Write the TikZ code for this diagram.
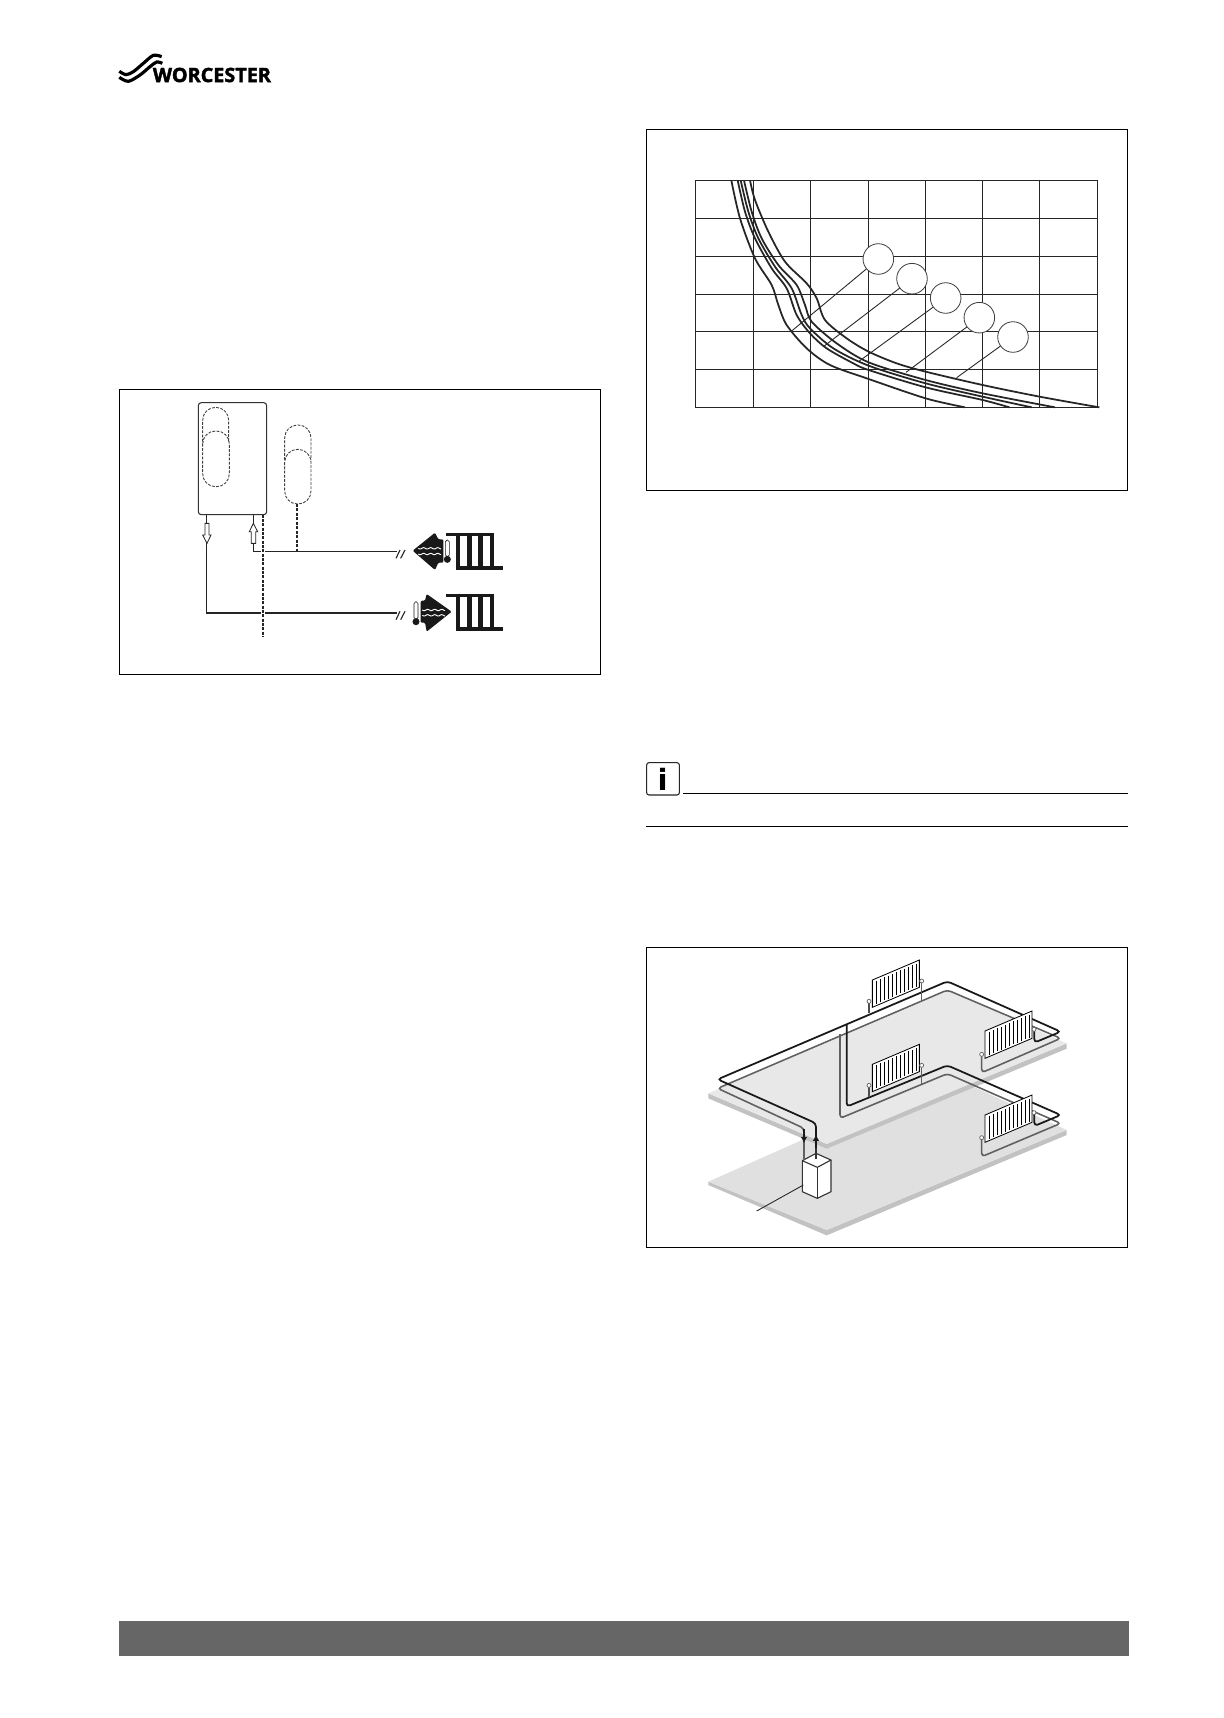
\documentclass[tikz,border=0pt]{standalone}
\usepackage{fontspec}
\usepackage{tikz}
\usetikzlibrary{positioning,arrows.meta}
\newfontfamily\logofont[BoldFeatures={FakeBold=2}]{Open Sans}
\newfontfamily\infofont{DejaVu Sans}
\definecolor{pipegray}{HTML}{606060}
\definecolor{floorgray}{HTML}{E8E8E8}
\definecolor{floorlow}{HTML}{E0E0E0}
\definecolor{flooredge}{HTML}{C2C2C2}
\definecolor{bargray}{HTML}{666666}
\tikzset{
  framebox/.style={draw=black,line width=.9pt},
  gridline/.style={draw=black!85,line width=.85pt},
  curveline/.style={draw=black!85,line width=1.5pt},
  leaderline/.style={draw=black!85,line width=.75pt},
  markcircle/.style={circle,draw=black!75,fill=white,line width=.7pt,minimum size=26.1pt,inner sep=0pt},
  capsule/.style={draw=black!75,dashed,dash pattern=on 2.4pt off 1.2pt,line width=.75pt},
  flowline/.style={draw=black!85,line width=.95pt},
  flowthick/.style={draw=black!85,line width=1.4pt},
  hollowarrow/.style={draw=black!85,fill=white,line width=.7pt},
  mainpipe/.style={draw=black!90,line width=1.5pt,rounded corners=3pt},
  greypipe/.style={draw=pipegray,line width=1.35pt,rounded corners=3pt},
  pipearrow/.style={draw=black!90,line width=2.1pt,-{Latex[length=5.5pt,width=5.5pt]}},
  wave/.style={draw=white,line width=.8pt},
}
\newcommand{\radpanel}[2]{
  \begin{scope}[shift={(#1,#2)}]
    \draw[draw=black,fill=white,line width=.7pt] (0,0) -- (141,-60) -- (141,22) -- (0,82) -- cycle;
    \foreach \fx in {12,24,...,132}
      \draw[black,line width=.6pt] ({\fx},{-.4255*\fx+7}) -- ({\fx},{-.4255*\fx+76});
  \end{scope}
}
\newcommand{\radvalve}[2]{
  \filldraw[draw=pipegray,fill=white,line width=.6pt] (#1,#2) circle (1.7pt);
}
\newcommand{\radicon}[2]{
  \begin{scope}[shift={(#1,#2)}]
    \fill[black!90] (0,0) rectangle (145,10);
    \foreach \bx in {30,64,97,132}
      \fill[black!90] (\bx,0) rectangle ({\bx+13},112);
    \fill[black!90] (30,100) rectangle (172,112);
  \end{scope}
}
\newcommand{\breakmark}[1]{
  \draw[flowline] (858,#1+20) -- (870,#1-5);
  \draw[flowline] (872,#1+20) -- (885,#1-5);
}
\begin{document}
\begin{tikzpicture}[x=.3mm,y=-.3mm]
  \fill[white] (0,0) rectangle (1224,1718);
  % logo
  \begin{scope}[shift={(100,40)},x=.1mm,y=-.1mm]
    \draw[black,line width=2.7pt] plot[smooth] coordinates {(58,94) (78,104) (100,95) (130,70) (160,46) (185,50)};
    \draw[black,line width=2.7pt] plot[smooth] coordinates {(58,112) (85,124) (120,105) (150,80) (170,66) (187,70)};
    \node[anchor=west,inner sep=0pt,font=\logofont\bfseries\fontsize{16.9}{20}\selectfont] (logotext) at (158,105) {WORCESTER};
  \end{scope}
  % bottom bar
  \fill[bargray] (119.4,1621) rectangle (1128.7,1656);
  % system schematic
  \draw[framebox] (119.3,389.3) rectangle (600.7,674.3);
  \begin{scope}[shift={(110,380)},x=.1mm,y=-.1mm]
    \draw[capsule] (278,185) [rounded corners=11pt] -- (278,82) -- (356,82) -- (356,185);
    \draw[capsule,rounded corners=11pt] (278,153) rectangle (358,320);
    \draw[capsule] (524,240) [rounded corners=11pt] -- (524,135) -- (603,135) -- (603,240);
    \draw[capsule,rounded corners=11pt] (524,208) rectangle (603,372);
    \draw[draw=black!80,line width=.9pt,rounded corners=2.5pt] (265,68) rectangle (470,404);
    \draw[draw=black!85,dashed,dash pattern=on 2.5pt off 1.3pt,line width=1.2pt] (561,372) -- (561,515);
    \draw[flowline] (430,404) -- (430,432);
    \draw[flowline] (430,490) -- (430,515) -- (860,515);
    \draw[flowthick] (290,404) -- (290,430);
    \draw[flowthick] (290,490) -- (290,699) -- (860,699);
    \draw[hollowarrow] (285,430) -- (297,430) -- (297,465) -- (303,465) -- (291,490) -- (278,465) -- (285,465) -- cycle;
    \draw[hollowarrow] (424,490) -- (437,490) -- (437,455) -- (443,455) -- (430,430) -- (418,455) -- (424,455) -- cycle;
    \fill[white] (452,508) rectangle (466,522);
    \fill[white] (452,692) rectangle (466,706);
    \draw[draw=black!85,dashed,dash pattern=on 2.5pt off 1.2pt,line width=.9pt] (459,404) -- (459,770);
    \breakmark{515}
    \breakmark{699}
    % room icons
    \radicon{1008}{458}
    \radicon{1008}{642}
    \fill[black!90] (908,512) [rounded corners=1pt] -- (975,458) -- (985,478) -- (1000,478) -- (1000,548) -- (985,548) -- (975,570) -- cycle;
    \draw[wave] plot[smooth,domain=0:68,samples=35] ({925+\x},{505+2*sin(\x*17)});
    \draw[wave] plot[smooth,domain=0:68,samples=35] ({925+\x},{522+2*sin(\x*17)});
    \filldraw[draw=black!90,fill=white,line width=.5pt,rounded corners=1.5pt] (1006,530) -- (1006,480) -- (1018,480) -- (1018,530) -- cycle;
    \fill[black!90] (1012,538) circle (3pt);
    \fill[black!90] (1025,695) [rounded corners=1pt] -- (950,642) -- (945,662) -- (932,662) -- (932,728) -- (945,728) -- (950,755) -- cycle;
    \draw[wave] plot[smooth,domain=0:68,samples=35] ({937+\x},{690+2*sin(\x*17)});
    \draw[wave] plot[smooth,domain=0:68,samples=35] ({937+\x},{706+2*sin(\x*17)});
    \filldraw[draw=black!90,fill=white,line width=.5pt,rounded corners=1.5pt] (912,718) -- (912,665) -- (924,665) -- (924,718) -- cycle;
    \fill[black!90] (918,725) circle (3pt);
  \end{scope}
  % curve chart
  \draw[framebox] (646.3,129.7) rectangle (1127.7,490.7);
  \begin{scope}[shift={(640,125)},x=.1mm,y=-.1mm]
    \foreach \gx in {166,340,512,686,857,1028,1199,1373}
      \draw[gridline] (\gx,166) -- (\gx,847);
    \foreach \gy in {166,280,394,508,620,733,847}
      \draw[gridline] (166,\gy) -- (1373,\gy);
    \draw[curveline] plot[smooth] coordinates {(274,166) (300,280) (345,400) (395,480) (415,540) (440,600) (500,670) (570,720) (686,762) (857,820) (975,847)};
    \draw[curveline] plot[smooth] coordinates {(293,166) (315,260) (345,340) (395,430) (440,490) (470,570) (510,625) (560,670) (640,715) (686,735) (857,787) (1028,825) (1108,847)};
    \draw[curveline] plot[smooth] coordinates {(302,166) (325,260) (355,340) (405,425) (455,490) (485,570) (510,610) (580,670) (686,722) (857,775) (1028,815) (1175,847)};
    \draw[curveline] plot[smooth] coordinates {(312,166) (335,260) (365,340) (415,420) (470,480) (495,540) (515,590) (590,655) (686,712) (857,765) (1028,805) (1245,847)};
    \draw[curveline] plot[smooth] coordinates {(330,166) (345,225) (385,320) (435,410) (500,475) (530,520) (555,585) (620,640) (686,680) (770,715) (857,740) (1028,780) (1199,815) (1378,847)};
    \coordinate (curveA) at (455,618);
    \coordinate (curveB) at (550,665);
    \coordinate (curveC) at (658,708);
    \coordinate (curveD) at (798,742);
    \coordinate (curveE) at (950,758);
    \node[markcircle] (markA) at (715,402) {};
    \node[markcircle] (markB) at (816,461) {};
    \node[markcircle] (markC) at (917,519) {};
    \node[markcircle] (markD) at (1018,578) {};
    \node[markcircle] (markE) at (1119,636) {};
    \draw[leaderline] (markA) -- (curveA);
    \draw[leaderline] (markB) -- (curveB);
    \draw[leaderline] (markC) -- (curveC);
    \draw[leaderline] (markD) -- (curveD);
    \draw[leaderline] (markE) -- (curveE);
  \end{scope}
  % info note
  \begin{scope}[shift={(640,750)},x=.1mm,y=-.1mm]
    \draw[draw=black!85,line width=.9pt,rounded corners=2pt] (20,38) rectangle (118,135);
    \node[font=\infofont\bfseries\fontsize{25}{25}\selectfont,inner sep=0pt] (infomark) at (68,88) {i};
    \draw[framebox] (130,130) -- (1465,130);
    \draw[framebox] (18,230) -- (1465,230);
  \end{scope}
  % two storey layout
  \draw[framebox] (646.5,947.9) rectangle (1127.6,1247.3);
  \begin{scope}[shift={(690,960)},x=.1mm,y=-.1mm]
    \fill[flooredge] (55,665) -- (55,675) -- (410,826) -- (1130,525) -- (1130,510) -- (410,810) -- cycle;
    \fill[floorlow] (55,665) -- (775,345) -- (1130,510) -- (410,810) -- cycle;
    \fill[flooredge] (55,400) -- (55,415) -- (410,566) -- (1130,266) -- (1130,250) -- (410,552) -- cycle;
    \fill[floorgray] (55,400) -- (775,92) -- (1130,250) -- (410,552) -- cycle;
    % upper storey pipes
    \draw[greypipe] (342,600) -- (342,505) -- (83,385) -- (772,90) -- (1112,235) -- (875,338) -- (875,285);
    \draw[mainpipe] (378,580) -- (378,490) -- (83,358) -- (772,64) -- (1112,215) -- (1033,248) -- (1033,210);
    \draw[draw=black!70,line width=1pt] (537,125) -- (537,160);
    \draw[draw=pipegray,line width=1pt] (695,65) -- (695,122);
    \radpanel{547}{60}
    \radvalve{537}{124}
    \radvalve{695}{63}
    \radpanel{885}{213}
    \radvalve{875}{283}
    \radvalve{1032}{208}
    % lower storey pipes
    \draw[greypipe] (450,222) -- (450,475) -- (772,341) -- (1112,490) -- (875,590) -- (875,535);
    \draw[mainpipe] (470,192) -- (470,440) -- (772,316) -- (1112,465) -- (1033,498) -- (1033,460);
    \draw[draw=black!70,line width=1pt] (537,378) -- (537,412);
    \draw[draw=pipegray,line width=1pt] (695,318) -- (695,373);
    \radpanel{547}{313}
    \radvalve{537}{376}
    \radvalve{695}{316}
    \radpanel{885}{465}
    \radvalve{875}{533}
    \radvalve{1032}{458}
    % boiler
    \draw[draw=black!80,fill=white,line width=.95pt,line join=round] (337,602) -- (378,580) -- (423,600) -- (423,695) -- (382,715) -- (337,695) -- cycle;
    \draw[draw=black!80,line width=.95pt,line join=round] (337,602) -- (382,622) -- (423,600);
    \draw[draw=black!80,line width=.95pt] (382,622) -- (382,715);
    \draw[pipegray,line width=1.3pt] (342,545) -- (342,600);
    \draw[draw=black!80,line width=1.3pt] (378,560) -- (378,598);
    \draw[pipearrow] (342,508) -- (342,550);
    \draw[pipearrow] (378,565) -- (378,523);
    \coordinate (boilerlead) at (200,753);
    \coordinate (boilerside) at (340,675);
    \draw[leaderline] (boilerside) -- (boilerlead);
  \end{scope}
\end{tikzpicture}
\end{document}
